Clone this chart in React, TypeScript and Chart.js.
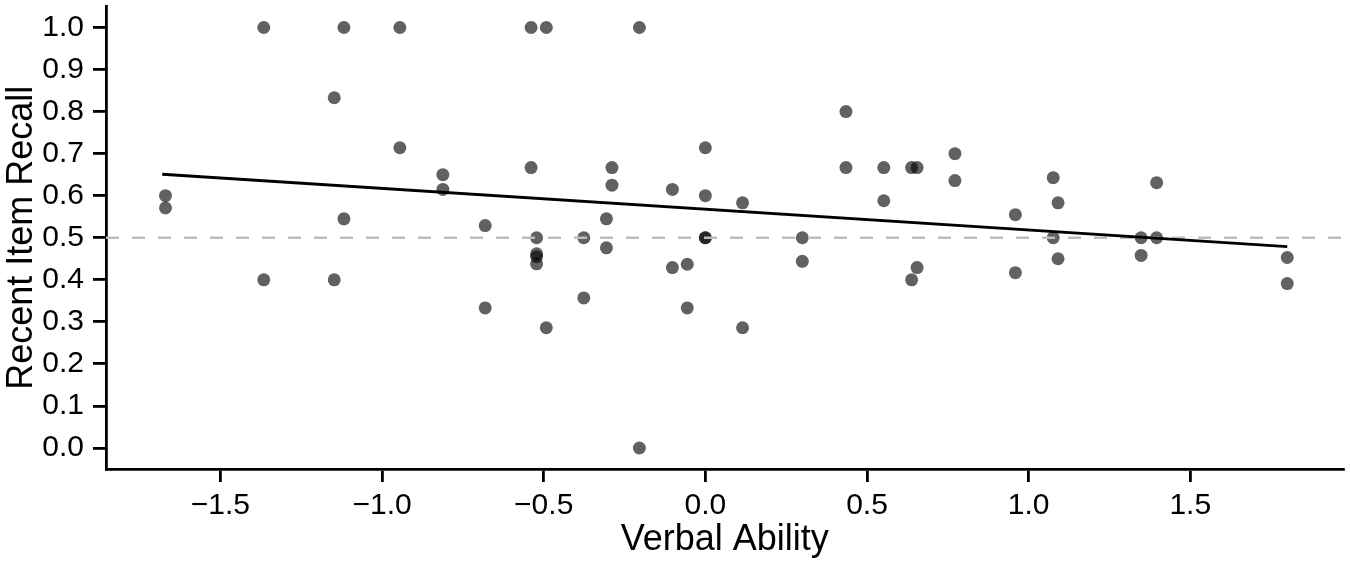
import { useEffect, useRef } from 'react';
import { Chart, registerables } from 'chart.js';

Chart.register(...registerables);

// verbal ability (x) and recent item recall (y), one entry per participant
const verbalAbility = [
    -1.67, -1.67, -1.366, -1.366, -1.148, -1.148, -1.118, -1.118, -0.945, -0.945,
    -0.812, -0.812, -0.681, -0.681, -0.539, -0.539, -0.522, -0.522, -0.522, -0.522,
    -0.492, -0.492, -0.376, -0.376, -0.306, -0.306, -0.289, -0.289, -0.204, -0.204,
    -0.102, -0.102, -0.056, -0.056, 0.0, 0.0, 0.0, 0.0, 0.115, 0.115,
    0.3, 0.3, 0.435, 0.435, 0.552, 0.552, 0.638, 0.638, 0.655, 0.655,
    0.772, 0.772, 0.959, 0.959, 1.076, 1.076, 1.091, 1.091, 1.348, 1.348,
    1.396, 1.396, 1.8, 1.8,
];
const recentRecall = [
    0.6, 0.571, 1.0, 0.4, 0.833, 0.4, 1.0, 0.545, 1.0, 0.714,
    0.65, 0.615, 0.529, 0.333, 1.0, 0.667, 0.5, 0.462, 0.455, 0.438,
    1.0, 0.286, 0.5, 0.357, 0.545, 0.476, 0.667, 0.625, 1.0, 0.0,
    0.615, 0.429, 0.437, 0.333, 0.714, 0.6, 0.5, 0.5, 0.583, 0.286,
    0.5, 0.444, 0.8, 0.667, 0.667, 0.588, 0.667, 0.4, 0.667, 0.429,
    0.7, 0.636, 0.555, 0.417, 0.643, 0.5, 0.583, 0.45, 0.5, 0.458,
    0.631, 0.5, 0.453, 0.391,
];

// fitted regression line, read at its two ends
const trendX = [-1.68, 1.8];
const trendY = [0.651, 0.479];

// chance level reference
const chanceLevel = 0.5;

const xTicks = [-1.5, -1.0, -0.5, 0.0, 0.5, 1.0, 1.5];
const yTicks = [0.0, 0.1, 0.2, 0.3, 0.4, 0.5, 0.6, 0.7, 0.8, 0.9, 1.0];

const X_MIN = -1.854;
const X_MAX = 1.974;
const Y_MIN = -0.05;
const Y_MAX = 1.05;

const FONT = '"Liberation Sans", Arial, Helvetica, sans-serif';

const fmt = (v: number) => v.toFixed(1).replace('-', '\u2212');

const App = () => {
    const canvasRef = useRef<HTMLCanvasElement>(null);

    useEffect(() => {
        document.body.style.margin = '0';
        const ctx = canvasRef.current?.getContext('2d');
        if (!ctx) return;

        const chart = new Chart(ctx, {
            type: 'scatter',
            data: {
                datasets: [
                    {
                        label: 'trend',
                        data: trendX.map((x, i) => ({ x, y: trendY[i] })),
                        showLine: true,
                        borderColor: '#000000',
                        borderWidth: 2.8,
                        pointRadius: 0,
                        order: 1,
                    },
                    {
                        label: 'chance',
                        data: [
                            { x: X_MIN, y: chanceLevel },
                            { x: X_MAX, y: chanceLevel },
                        ],
                        showLine: true,
                        borderColor: '#bdbdbd',
                        borderWidth: 2.5,
                        borderDash: [13, 13],
                        pointRadius: 0,
                        order: 2,
                    },
                    {
                        label: 'participants',
                        data: verbalAbility.map((x, i) => ({ x, y: recentRecall[i] })),
                        backgroundColor: 'rgba(0, 0, 0, 0.62)',
                        borderWidth: 0,
                        pointRadius: 6.5,
                        order: 3,
                    },
                ],
            },
            options: {
                responsive: false,
                animation: false,
                layout: { padding: { left: 0, right: 5, top: 3, bottom: 0 } },
                plugins: {
                    legend: { display: false },
                    tooltip: { enabled: false },
                },
                scales: {
                    x: {
                        type: 'linear',
                        min: X_MIN,
                        max: X_MAX,
                        afterBuildTicks: (scale) => {
                            scale.ticks = xTicks.map((value) => ({ value }));
                        },
                        afterFit: (scale) => {
                            scale.height = 93;
                            scale.paddingLeft = 0;
                            scale.paddingRight = 0;
                        },
                        border: { display: true, color: '#000000', width: 2.8 },
                        grid: {
                            display: true,
                            drawOnChartArea: false,
                            drawTicks: true,
                            tickLength: 13,
                            color: '#000000',
                            lineWidth: 2.8,
                        },
                        ticks: {
                            color: '#000000',
                            padding: 6,
                            maxRotation: 0,
                            font: { family: FONT, size: 30 },
                            callback: (v) => fmt(Number(v)),
                        },
                        title: {
                            display: true,
                            text: 'Verbal Ability',
                            color: '#000000',
                            padding: 0,
                            font: { family: FONT, size: 36 },
                        },
                    },
                    y: {
                        type: 'linear',
                        min: Y_MIN,
                        max: Y_MAX,
                        afterBuildTicks: (scale) => {
                            scale.ticks = yTicks.map((value) => ({ value }));
                        },
                        afterFit: (scale) => {
                            scale.width = 106;
                            scale.paddingTop = 0;
                            scale.paddingBottom = 0;
                        },
                        border: { display: true, color: '#000000', width: 2.8 },
                        grid: {
                            display: true,
                            drawOnChartArea: false,
                            drawTicks: true,
                            tickLength: 13,
                            color: '#000000',
                            lineWidth: 2.8,
                        },
                        ticks: {
                            color: '#000000',
                            padding: 9,
                            font: { family: FONT, size: 30 },
                            callback: (v) => fmt(Number(v)),
                        },
                        title: {
                            display: true,
                            text: 'Recent Item Recall',
                            color: '#000000',
                            padding: 0,
                            font: { family: FONT, size: 36 },
                        },
                    },
                },
            },
        });

        return () => {
            chart.destroy();
        };
    }, []);

    return (
        <div style={{ width: 1350, height: 562 }}>
            <canvas ref={canvasRef} width="1350" height="562" style={{ display: 'block' }}></canvas>
        </div>
    );
};

export default App;
